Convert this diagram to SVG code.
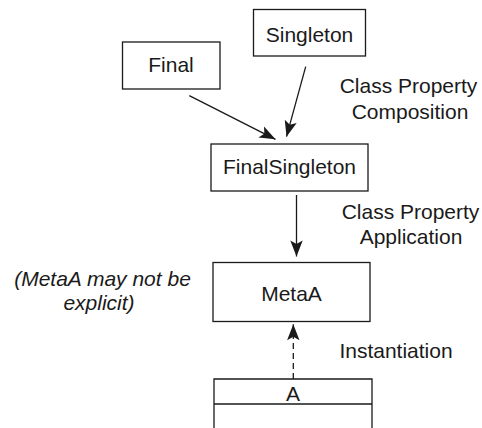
<svg xmlns="http://www.w3.org/2000/svg" width="482" height="428" viewBox="0 0 482 428">
<style>
  .box { fill: #ffffff; stroke: #1a1a1a; stroke-width: 1.3; }
  .lbl { font-family: "Liberation Sans", Arial, sans-serif; font-size: 21px; fill: #1a1a1a; text-anchor: middle; }
  .it { font-style: italic; }
  .edge { fill: none; stroke: #1a1a1a; stroke-width: 1.3; }
  .dash { stroke-dasharray: 6 4; }
</style>
<defs>
  <marker id="ah" viewBox="-17 -7 18 14" refX="0" refY="0" markerWidth="18" markerHeight="14" markerUnits="userSpaceOnUse" orient="auto">
    <path d="M0,0 L-16,-6.2 L-12.5,0 L-16,6.2 Z" fill="#1a1a1a"/>
  </marker>
</defs>
<rect width="482" height="428" fill="#ffffff"/>
<g id="connectors">
  <line class="edge" x1="189.3" y1="95.7" x2="275.5" y2="139.3" marker-end="url(#ah)"/>
  <line class="edge" x1="305.7" y1="66.7" x2="286.5" y2="136.7" marker-end="url(#ah)"/>
  <line class="edge" x1="296.5" y1="195" x2="296.5" y2="256.5" marker-end="url(#ah)"/>
  <line class="edge dash" x1="293.3" y1="379" x2="293.3" y2="324.3" marker-end="url(#ah)"/>
</g>
<g id="node-singleton">
  <rect class="box" x="253.5" y="9.5" width="112" height="46.5"/>
  <text class="lbl" x="309.5" y="42">Singleton</text>
</g>
<g id="node-final">
  <rect class="box" x="122.5" y="42" width="97.5" height="47"/>
  <text class="lbl" x="171" y="72">Final</text>
</g>
<g id="node-finalsingleton">
  <rect class="box" x="211" y="144" width="157" height="47"/>
  <text class="lbl" x="289.5" y="174">FinalSingleton</text>
</g>
<g id="node-metaa">
  <rect class="box" x="213" y="262.5" width="157" height="59"/>
  <text class="lbl" x="291.5" y="301">MetaA</text>
</g>
<g id="node-a">
  <path class="edge" d="M214,428 L214,379 L372,379 L372,428 M214,404 L372,404"/>
  <text class="lbl" x="293" y="400.5">A</text>
</g>
<g id="labels">
  <text class="lbl" x="408.5" y="93">Class Property</text>
  <text class="lbl" x="410" y="119">Composition</text>
  <text class="lbl" x="410.5" y="219">Class Property</text>
  <text class="lbl" x="411" y="244">Application</text>
  <text class="lbl it" x="102.5" y="286">(MetaA may not be</text>
  <text class="lbl it" x="99" y="310">explicit)</text>
  <text class="lbl" x="396" y="358">Instantiation</text>
</g>
</svg>
